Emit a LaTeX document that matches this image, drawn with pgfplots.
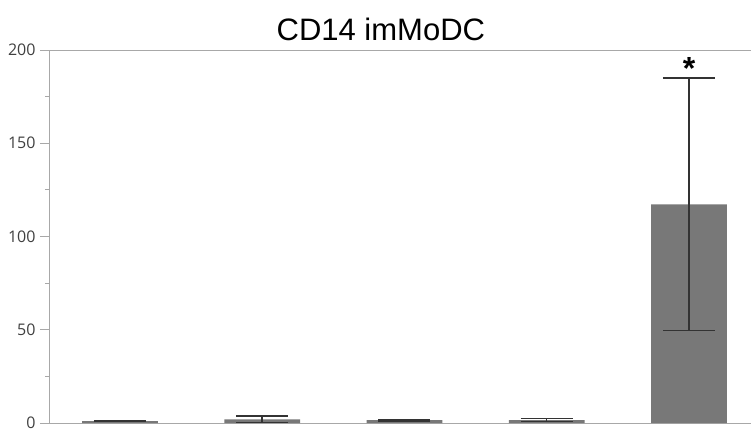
\documentclass[border=0pt]{standalone}
\usepackage{fontspec}
\setmainfont{Liberation Sans}
\newfontfamily\tickfont{Open Sans}
\usepackage{pgfplots}
\pgfplotsset{compat=1.18}
\definecolor{barg}{HTML}{787878}
\definecolor{errc}{HTML}{333333}
\definecolor{axc}{HTML}{A8A8A8}
\definecolor{tickc}{HTML}{404040}
\begin{document}
\begin{tikzpicture}
\path[use as bounding box] (-50pt,-9pt) rectangle (701pt,423pt);
\begin{axis}[
  at={(0,0)}, anchor=south west,
  scale only axis, width=701pt, height=373pt,
  xmin=-0.492, xmax=4.436, ymin=0, ymax=200,
  axis x line*=box, axis y line*=left,
  axis line style={draw=axc, line width=1pt},
  xtick=\empty,
  ytick={0,50,100,150,200},
  minor ytick={25,75,125,175},
  tick align=outside,
  major tick length=10pt, minor tick length=5pt,
  every tick/.style={draw=axc, line width=1pt},
  yticklabel style={font=\tickfont\fontsize{16}{16}\selectfont, text=tickc, xshift=-1pt},
  /pgf/number format/assume math mode=true,
  clip=false,
]
\addplot[ybar, bar width=0.534, fill=barg, draw=none,
  error bars/.cd, y dir=both, y explicit,
  error bar style={draw=errc, line width=1.5pt},
  error mark options={rotate=90, draw=errc, line width=1.5pt, mark size=26pt}]
  coordinates {
  (0,1) +- (0,0.3)
  (1,2) +- (0,1.75)
  (2,1.5) +- (0,0.5)
  (3,1.5) +- (0,0.8)
  (4,117.2) +- (0,67.7)
  };
\node[font=\bfseries\fontsize{32}{32}\selectfont, anchor=center] at (axis cs:4,190) {*};
\node[font=\fontsize{31}{31}\selectfont, anchor=center] at (rel axis cs:0.472,1.054) {CD14 imMoDC};
\end{axis}
\end{tikzpicture}
\end{document}
